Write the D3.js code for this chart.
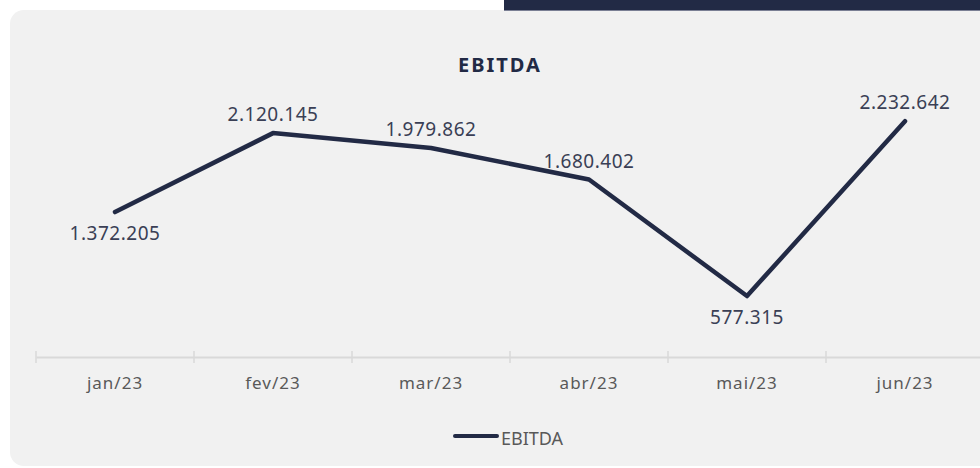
<!DOCTYPE html>
<html>
<head>
<meta charset="utf-8">
<script src="https://cdn.jsdelivr.net/npm/d3@7"></script>
<style>
  body { margin: 0; background: #ffffff; }
  svg { display: block; font-family: "Noto Sans", "DejaVu Sans", sans-serif; }
</style>
</head>
<body>
<svg id="chart" width="980" height="468"></svg>
<script>
// data
var months = ["jan/23", "fev/23", "mar/23", "abr/23", "mai/23", "jun/23"];
var ebitda = [1372205, 2120145, 1979862, 1680402, 577315, 2232642];
var labelBelow = [true, false, false, false, true, false];
var seriesName = "EBITDA";

var navy = "#222a45";
var svg = d3.select("#chart");

// card background + top bar
svg.append("rect")
    .attr("x", 10).attr("y", 10)
    .attr("width", 1000).attr("height", 456)
    .attr("rx", 14).attr("ry", 14)
    .attr("fill", "#f1f1f1");
svg.append("rect")
    .attr("x", 504).attr("y", 0)
    .attr("width", 476).attr("height", 10)
    .attr("fill", navy);
svg.append("rect")
    .attr("x", 504).attr("y", 10)
    .attr("width", 476).attr("height", 1)
    .attr("fill", "#7a7f94");

// title
svg.append("text")
    .attr("x", 500).attr("y", 72)
    .attr("text-anchor", "middle")
    .attr("font-size", 20)
    .attr("font-weight", "bold")
    .attr("letter-spacing", 2)
    .attr("fill", navy)
    .text(seriesName);

// scales
var x = d3.scaleBand().domain(months).range([36, 984]);
var y = d3.scaleLinear().domain([0, 2500000]).range([357, 93]);

// x axis
var axis = svg.append("g")
    .attr("transform", "translate(0," + y(0) + ")")
    .call(d3.axisBottom(x).tickSize(0).tickPadding(20));
axis.select(".domain").attr("stroke", "#d9d9d9").attr("stroke-width", 2);
axis.selectAll("text")
    .attr("font-size", 17)
    .attr("letter-spacing", 1)
    .attr("fill", "#595959")
    .attr("font-family", "Noto Sans, sans-serif");

// band boundary ticks
var bounds = months.map(function(m) { return x(m); });
axis.selectAll(".bound")
    .data(bounds)
    .enter().append("line")
    .attr("class", "bound")
    .attr("x1", function(d) { return d; })
    .attr("x2", function(d) { return d; })
    .attr("y1", -6).attr("y2", 6)
    .attr("stroke", "#d9d9d9")
    .attr("stroke-width", 1.5);

// line
var pts = months.map(function(m, i) { return {m: m, v: ebitda[i], below: labelBelow[i]}; });
var line = d3.line()
    .x(function(d) { return x(d.m) + x.bandwidth() / 2; })
    .y(function(d) { return y(d.v); });
svg.append("path")
    .datum(pts)
    .attr("fill", "none")
    .attr("stroke", navy)
    .attr("stroke-width", 4.5)
    .attr("stroke-linejoin", "round")
    .attr("stroke-linecap", "round")
    .attr("d", line);

// data labels
var fmt = function(v) { return d3.format(",")(v).replace(/,/g, "."); };
svg.selectAll(".lbl")
    .data(pts)
    .enter().append("text")
    .attr("class", "lbl")
    .attr("x", function(d) { return x(d.m) + x.bandwidth() / 2; })
    .attr("y", function(d) { return d.below ? y(d.v) + 28 : y(d.v) - 12; })
    .attr("text-anchor", "middle")
    .attr("font-size", 19)
    .attr("letter-spacing", 0.5)
    .attr("fill", "#3a3f55")
    .text(function(d) { return fmt(d.v); });

// legend
svg.append("line")
    .attr("x1", 455).attr("x2", 497)
    .attr("y1", 436).attr("y2", 436)
    .attr("stroke", navy)
    .attr("stroke-width", 4)
    .attr("stroke-linecap", "round");
svg.append("text")
    .attr("x", 501).attr("y", 445)
    .attr("font-size", 18)
    .attr("fill", "#595959")
    .text(seriesName);
</script>
</body>
</html>
